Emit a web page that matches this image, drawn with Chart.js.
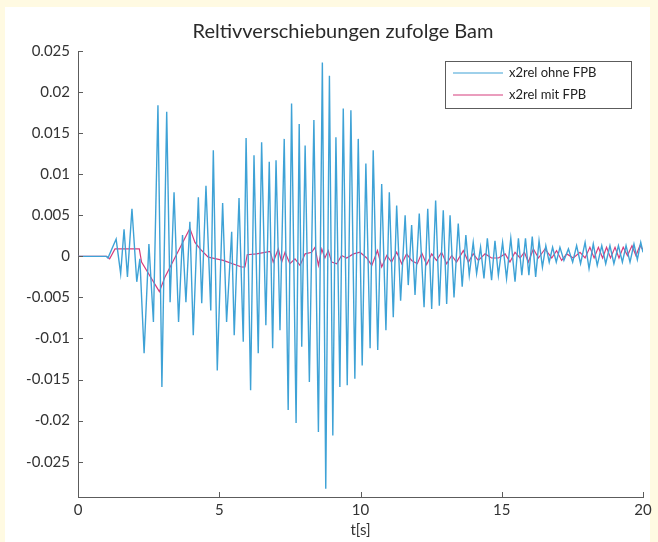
<!DOCTYPE html>
<html lang="de">
<head>
    <meta charset="UTF-8">
    <title>Reltivverschiebungen zufolge Bam</title>
    <script src="https://cdn.jsdelivr.net/npm/chart.js"></script>
    <style>
        html, body { margin: 0; padding: 0; }
        body { width: 658px; height: 542px; background: #fffae2; position: relative; overflow: hidden; }
        #panel { position: absolute; left: 5px; top: 7px; width: 645px; height: 535px; background: #fff; }
        #resultChart { position: absolute; left: 0; top: 0; }
    </style>
</head>
<body>
    <div id="panel"></div>
    <canvas id="resultChart" width="658" height="542"></canvas>
    <script>
        // x2rel ohne FPB (extrema of the oscillation)
        const tOhne = [0, 1.0, 1.06, 1.35, 1.51, 1.63, 1.75, 1.91, 2.08, 2.19, 2.34, 2.51, 2.67, 2.83, 2.97, 3.14, 3.26, 3.40, 3.56, 3.70,
            3.82, 3.96, 4.08, 4.26, 4.38, 4.53, 4.70, 4.79, 4.93, 5.12, 5.26, 5.44, 5.53, 5.70, 5.85, 5.95, 6.11, 6.23, 6.38, 6.50,
            6.65, 6.77, 6.89, 7.01, 7.15, 7.30, 7.44, 7.56, 7.72, 7.83, 7.92, 8.04, 8.19, 8.35, 8.51, 8.65, 8.77, 8.90, 9.02, 9.13,
            9.27, 9.39, 9.53, 9.66, 9.80, 9.92, 10.06, 10.19, 10.34, 10.45, 10.61, 10.75, 10.90, 11.02, 11.16, 11.28, 11.42, 11.58, 11.69, 11.81,
            11.93, 12.08, 12.25, 12.38, 12.52, 12.66, 12.79, 12.93, 13.05, 13.17, 13.31, 13.46, 13.60, 13.73, 13.85, 13.99, 14.11, 14.25, 14.37, 14.49,
            14.64, 14.76, 14.88, 15.03, 15.17, 15.32, 15.47, 15.59, 15.71, 15.84, 15.96, 16.08, 16.20, 16.32, 16.44, 16.56, 16.68, 16.80, 16.93, 17.06,
            17.20, 17.36, 17.51, 17.65, 17.79, 17.95, 18.09, 18.24, 18.38, 18.54, 18.68, 18.83, 18.97, 19.13, 19.27, 19.40, 19.54, 19.68, 19.80, 19.92, 20.0];
        const x2relOhne = [0, 0, -0.0002, 0.0021, -0.0021, 0.0033, -0.0025, 0.0058, -0.0031, -0.0003, -0.0118, 0.0015, -0.0080, 0.0184, -0.0159, 0.0176, -0.0056, 0.0078, -0.0080, 0.0026,
            -0.0056, 0.0042, -0.0096, 0.0072, -0.0057, 0.0086, -0.0066, 0.0129, -0.0139, 0.0065, -0.0080, 0.0030, -0.0096, 0.0071, -0.0104, 0.0144, -0.0163, 0.0123, -0.0118, 0.0139,
            -0.0084, 0.0115, -0.0112, 0.0117, -0.0090, 0.0143, -0.0187, 0.0186, -0.0203, 0.0161, -0.0110, 0.0135, -0.0153, 0.0166, -0.0214, 0.0236, -0.0283, 0.0220, -0.0218, 0.0145,
            -0.0159, 0.0180, -0.0157, 0.0178, -0.0149, 0.0143, -0.0133, 0.0113, -0.0112, 0.0129, -0.0114, 0.0088, -0.0090, 0.0078, -0.0074, 0.0062, -0.0054, 0.0050, -0.0035, 0.0038,
            -0.0047, 0.0052, -0.0062, 0.0058, -0.0064, 0.0068, -0.0060, 0.0056, -0.0058, 0.0050, -0.0050, 0.0040, -0.0037, 0.0026, -0.0023, 0.0017, -0.0021, 0.0011, -0.0027, 0.0022,
            -0.0029, 0.0019, -0.0023, 0.0017, -0.0027, 0.0022, -0.0031, 0.0022, -0.0023, 0.0022, -0.0023, 0.0024, -0.0025, 0.0019, -0.0013, 0.0013, -0.0007, 0.0011, -0.0007, 0.0011,
            -0.0005, 0.0009, -0.0007, 0.0013, -0.0009, 0.0017, -0.0015, 0.0015, -0.0011, 0.0013, -0.0009, 0.0013, -0.0009, 0.0013, -0.0007, 0.0013, -0.0007, 0.0015, -0.0004, 0.0017, 0.0005];

        // x2rel mit FPB
        const tMit = [0, 1.01, 1.12, 1.31, 2.17, 2.25, 2.88, 3.08, 3.96, 4.14, 4.32, 4.61, 5.14, 5.79, 5.91, 5.99, 6.32, 6.80, 6.91, 7.09,
            7.21, 7.33, 7.50, 7.68, 7.86, 8.04, 8.27, 8.39, 8.51, 8.63, 8.74, 8.86, 8.98, 9.16, 9.33, 9.51, 9.75, 9.98, 10.22, 10.40,
            10.60, 10.75, 10.93, 11.10, 11.28, 11.46, 11.63, 11.81, 12.01, 12.17, 12.34, 12.52, 12.69, 12.87, 13.05, 13.23, 13.40, 13.64, 13.82, 13.99,
            14.17, 14.41, 14.64, 14.88, 15.12, 15.29, 15.47, 15.65, 15.80, 15.94, 16.12, 16.30, 16.53, 16.77, 16.94, 17.12, 17.30, 17.53, 17.77, 17.95,
            18.12, 18.27, 18.42, 18.57, 18.71, 18.85, 19.01, 19.15, 19.30, 19.45, 19.61, 19.75, 19.89, 20.0];
        const x2relMit = [0, 0, -0.0003, 0.0009, 0.0009, -0.0007, -0.0043, -0.0025, 0.0034, 0.0017, 0.0009, -0.0001, -0.0005, -0.0013, -0.0013, 0.0002, 0.0003, 0.0006, -0.0007, 0.0009,
            -0.0007, 0.0005, -0.0009, -0.0003, -0.0011, 0.0003, 0.0005, 0.0011, -0.0011, 0.0009, -0.0002, 0.0007, -0.0007, -0.0009, 0.0001, -0.0002, 0.0003, 0.0005, -0.0002, -0.0011,
            0.0007, -0.0013, 0.0001, -0.0007, 0.0005, -0.0009, 0.0003, -0.0005, -0.0009, 0.0004, -0.0010, 0.0003, -0.0005, 0.0005, -0.0009, 0.0001, -0.0007, 0.0007, -0.0007, 0.0003,
            -0.0005, 0.0003, -0.0002, -0.0002, 0.0003, -0.0007, 0.0005, -0.0002, 0.0005, -0.0007, 0.0009, -0.0002, 0.0009, -0.0002, 0.0007, -0.0005, 0.0003, -0.0002, 0.0005, -0.0002,
            0.0011, -0.0002, 0.0011, -0.0002, 0.0011, -0.0002, 0.0011, -0.0002, 0.0011, 0.0001, 0.0013, 0.0001, 0.0013, 0.0008];

        const xTicks = [0, 5, 10, 15, 20];
        const yTicks = [-0.025, -0.02, -0.015, -0.01, -0.005, 0, 0.005, 0.01, 0.015, 0.02, 0.025];

        const font = 'Lato, "Open Sans", sans-serif';
        const axisColor = '#5c5c5c';

        // y labels hang out to the left of the (narrow) axis box, so widen its clip area
        const unclipY = {
            id: 'unclipY',
            afterLayout(chart) { chart.scales.y.left = 0; }
        };

        // matlab style tick marks pointing into the plot
        const inwardTicks = {
            id: 'inwardTicks',
            afterDraw(chart) {
                const { ctx, scales: { x, y } } = chart;
                ctx.save();
                ctx.strokeStyle = axisColor;
                ctx.lineWidth = 1;
                ctx.beginPath();
                x.ticks.forEach(t => {
                    const px = Math.round(x.getPixelForValue(t.value)) + 0.5;
                    ctx.moveTo(px, x.top);
                    ctx.lineTo(px, x.top - 5);
                });
                y.ticks.forEach(t => {
                    const py = Math.round(y.getPixelForValue(t.value)) + 0.5;
                    ctx.moveTo(y.right, py);
                    ctx.lineTo(y.right + 5, py);
                });
                ctx.stroke();
                ctx.restore();
            }
        };

        // legend box in the upper right corner of the axes
        const legendBox = {
            id: 'legendBox',
            afterDraw(chart) {
                const { ctx, chartArea } = chart;
                const w = 186, h = 47;
                const left = chartArea.right - w - 12, top = chartArea.top + 10;
                ctx.save();
                ctx.fillStyle = '#fff';
                ctx.fillRect(left, top, w, h);
                ctx.strokeStyle = axisColor;
                ctx.lineWidth = 1;
                ctx.strokeRect(Math.round(left) + 0.5, Math.round(top) + 0.5, w, h);
                ctx.font = '13px ' + font;
                ctx.textBaseline = 'middle';
                chart.data.datasets.forEach((ds, i) => {
                    const yy = top + 12 + i * 22;
                    ctx.strokeStyle = ds.borderColor;
                    ctx.lineWidth = 1.2;
                    ctx.beginPath();
                    ctx.moveTo(left + 8, yy);
                    ctx.lineTo(left + 58, yy);
                    ctx.stroke();
                    ctx.fillStyle = '#222';
                    ctx.fillText(ds.label, left + 64, yy);
                });
                ctx.restore();
            }
        };

        const ctx = document.getElementById('resultChart').getContext('2d');
        new Chart(ctx, {
            type: 'line',
            data: {
                datasets: [{
                    label: 'x2rel ohne FPB',
                    data: tOhne.map((t, i) => ({ x: t, y: x2relOhne[i] })),
                    borderColor: '#3ea2d6',
                    borderWidth: 1.4,
                    pointRadius: 0,
                    tension: 0
                }, {
                    label: 'x2rel mit FPB',
                    data: tMit.map((t, i) => ({ x: t, y: x2relMit[i] })),
                    borderColor: '#d63c7c',
                    borderWidth: 1.2,
                    pointRadius: 0,
                    tension: 0
                }]
            },
            options: {
                responsive: false,
                animation: false,
                layout: { padding: { left: 43, right: 15, top: 0, bottom: 0 } },
                plugins: {
                    legend: { display: false },
                    tooltip: { enabled: false },
                    title: {
                        display: true,
                        text: 'Reltivverschiebungen zufolge Bam',
                        color: '#2a2a2a',
                        font: { family: font, size: 20, weight: 'normal' },
                        padding: { top: 20, bottom: 7 }
                    }
                },
                scales: {
                    x: {
                        type: 'linear',
                        min: 0,
                        max: 20,
                        afterBuildTicks: s => { s.ticks = xTicks.map(v => ({ value: v })); },
                        afterFit: s => { s.height = 45; },
                        grid: { display: false, drawTicks: false },
                        border: { color: axisColor, width: 1 },
                        ticks: { color: '#333', font: { family: font, size: 15 }, padding: 4, maxRotation: 0 },
                        title: { display: true, text: 't[s]', color: '#333', font: { family: font, size: 15 }, padding: { top: 0, bottom: 3 } }
                    },
                    y: {
                        type: 'linear',
                        min: -0.0293,
                        max: 0.025,
                        afterBuildTicks: s => { s.ticks = yTicks.map(v => ({ value: v })); },
                        afterFit: s => { s.width = 35; },
                        grid: { display: false, drawTicks: false },
                        border: { color: axisColor, width: 1 },
                        ticks: { color: '#333', font: { family: font, size: 15 }, padding: 8, callback: v => String(v) }
                    }
                }
            },
            plugins: [unclipY, inwardTicks, legendBox]
        });
    </script>
</body>
</html>
